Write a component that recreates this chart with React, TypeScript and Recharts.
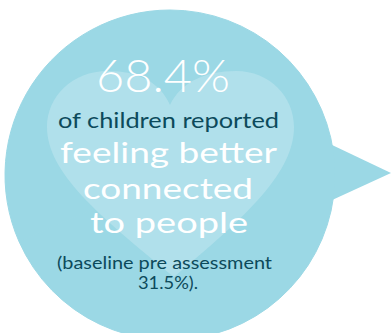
import React from "react";
import { PieChart, Pie, Cell, Customized } from "recharts";

// ---- data ----
const headlineValue = 68.4; // % of children reporting improvement
const baselineValue = 31.5; // baseline pre assessment %
const statementLines = ["of children reported", "feeling better", "connected", "to people"];
const baselineLines = ["(baseline pre assessment", `${baselineValue}%).`];
const bubbleData = [
  { name: "reported", value: headlineValue },
  { name: "rest", value: 100 - headlineValue },
];

const BUBBLE = "#9bd8e5";
const HEART = "#b0e0eb";
const DARK = "#0c4a5b";
const FONT = "Lato, 'Open Sans', sans-serif";

const Tail = () => <polygon points="330,144 391,173 330,201" fill={BUBBLE} />;

const Decor = () => {
  const heart =
    "M 170 105 C 160 82, 138 71, 108 71 C 72 71, 47 97, 47 127 C 47 172, 98 215, 174 277 C 248 215, 294 172, 294 127 C 294 97, 270 71, 236 71 C 205 71, 181 82, 170 105 Z";
  return (
    <g>
      <path d={heart} fill={HEART} />
      <text
        x={163}
        y={92}
        textAnchor="middle"
        fill="#ffffff"
        fontFamily={FONT}
        fontWeight={300}
        fontSize={46}
        textLength={134}
        lengthAdjust="spacingAndGlyphs"
      >
        {`${headlineValue}%`}
      </text>
      <text x={168.5} y={128} textAnchor="middle" fill={DARK} fontFamily={FONT} fontWeight={400} fontSize={22} textLength={221} lengthAdjust="spacingAndGlyphs">
        {statementLines[0]}
      </text>
      <text x={168.5} y={163} textAnchor="middle" fill="#ffffff" fontFamily={FONT} fontWeight={400} fontSize={29} textLength={217} lengthAdjust="spacingAndGlyphs">
        {statementLines[1]}
      </text>
      <text x={168} y={199} textAnchor="middle" fill="#ffffff" fontFamily={FONT} fontWeight={400} fontSize={29} textLength={170} lengthAdjust="spacingAndGlyphs">
        {statementLines[2]}
      </text>
      <text x={169} y={233} textAnchor="middle" fill="#ffffff" fontFamily={FONT} fontWeight={400} fontSize={29} textLength={158} lengthAdjust="spacingAndGlyphs">
        {statementLines[3]}
      </text>
      <text x={164.5} y={269} textAnchor="middle" fill={DARK} fontFamily={FONT} fontWeight={400} fontSize={17} textLength={215} lengthAdjust="spacingAndGlyphs">
        {baselineLines[0]}
      </text>
      <text x={168} y={289} textAnchor="middle" fill={DARK} fontFamily={FONT} fontWeight={400} fontSize={17} textLength={60} lengthAdjust="spacingAndGlyphs">
        {baselineLines[1]}
      </text>
    </g>
  );
};

const renderLabel = (props: any) => (props.index === 0 ? <Decor key="decor" /> : <g key={`l${props.index}`} />);

export default function App() {
  return (
    <div style={{ position: "absolute", left: 0, top: 0, width: 391, height: 333, background: "#ffffff" }}>
      <PieChart width={391} height={333} margin={{ top: 0, right: 0, bottom: 0, left: 0 }}>
        <Customized component={Tail} />
        <Pie
          data={bubbleData}
          dataKey="value"
          cx={170}
          cy={175}
          innerRadius={0}
          outerRadius={165}
          startAngle={90}
          endAngle={-270}
          stroke={BUBBLE}
          strokeWidth={1}
          label={renderLabel}
          labelLine={false}
          isAnimationActive={false}
        >
          {bubbleData.map((d) => (
            <Cell key={d.name} fill={BUBBLE} />
          ))}
        </Pie>
      </PieChart>
    </div>
  );
}
